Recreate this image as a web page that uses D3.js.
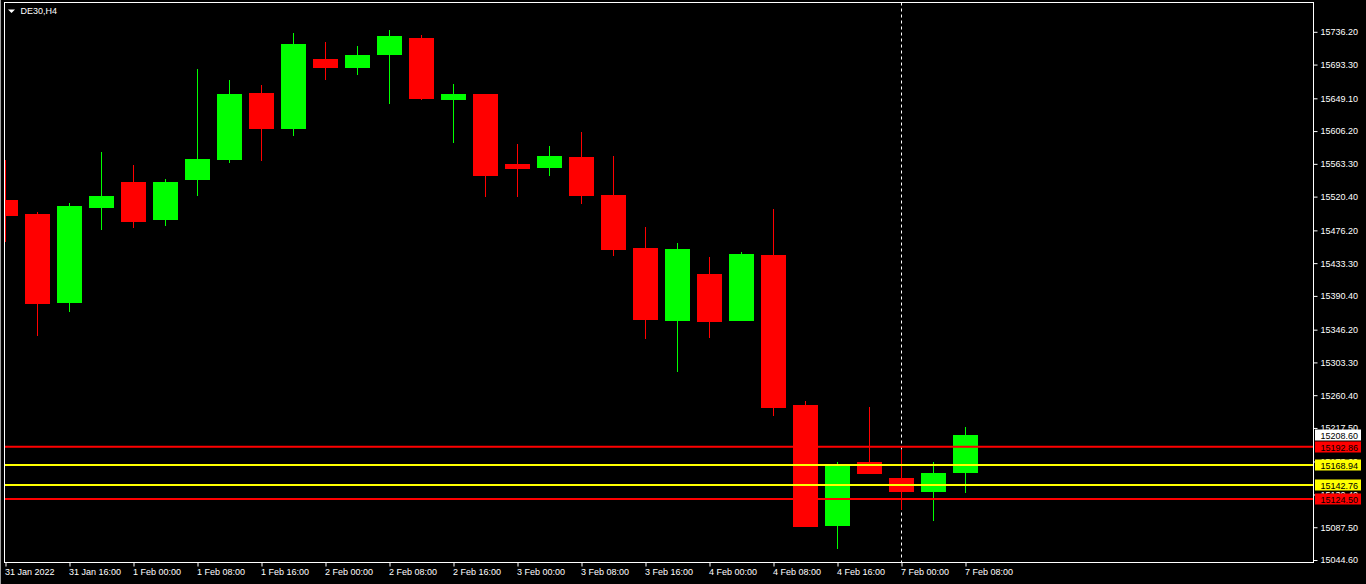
<!DOCTYPE html>
<html><head><meta charset="utf-8">
<script src="https://cdn.jsdelivr.net/npm/d3@7/dist/d3.min.js"></script>
<style>html,body{margin:0;padding:0;background:#000;overflow:hidden}svg{display:block}</style>
</head><body>
<svg id="c" width="1366" height="584"></svg>
<script>
const symbol = "DE30,H4";
const barTimes = ["31 Jan 08:00","31 Jan 12:00","31 Jan 16:00","31 Jan 20:00",
 "1 Feb 00:00","1 Feb 04:00","1 Feb 08:00","1 Feb 12:00","1 Feb 16:00","1 Feb 20:00",
 "2 Feb 00:00","2 Feb 04:00","2 Feb 08:00","2 Feb 12:00","2 Feb 16:00","2 Feb 20:00",
 "3 Feb 00:00","3 Feb 04:00","3 Feb 08:00","3 Feb 12:00","3 Feb 16:00","3 Feb 20:00",
 "4 Feb 00:00","4 Feb 04:00","4 Feb 08:00","4 Feb 12:00","4 Feb 16:00","4 Feb 20:00",
 "7 Feb 00:00","7 Feb 04:00","7 Feb 08:00"];
const firstLabel = "31 Jan 2022";
const open  = [15515.5,15497.2,15380.7,15505.4,15539.0,15489.7,15542.0,15568.2,15655.5,15608.8,15700.0,15688.6,15705.6,15728.7,15646.7,15654.2,15562.6,15557.7,15571.7,15522.0,15452.7,15357.5,15418.6,15357.5,15443.5,15247.3,15089.3,15172.7,15151.7,15133.8,15158.7];
const high  = [15567.8,15499.8,15511.5,15578.3,15561.3,15542.9,15686.9,15672.5,15665.9,15734.0,15722.2,15717.0,15739.2,15731.4,15667.2,15654.2,15588.7,15586.1,15604.4,15573.0,15480.1,15459.2,15440.9,15447.4,15503.7,15252.5,15172.7,15244.6,15188.4,15172.7,15218.5];
const low   = [15460.9,15337.9,15369.3,15476.6,15479.2,15481.8,15521.1,15564.3,15566.9,15599.6,15672.9,15679.4,15641.5,15647.5,15590.4,15519.8,15519.8,15547.3,15510.6,15442.6,15334.0,15290.8,15335.3,15357.0,15233.3,15087.5,15059.2,15157.0,15110.3,15095.9,15132.5];
const close = [15494.5,15379.4,15507.6,15520.7,15487.1,15539.0,15569.1,15654.2,15608.8,15719.6,15688.6,15705.2,15730.1,15648.0,15654.2,15547.3,15556.4,15573.0,15521.1,15450.4,15358.9,15451.4,15356.2,15444.8,15243.7,15088.0,15169.7,15157.4,15133.8,15158.3,15208.6];
const priceTicks = [15736.2,15693.3,15649.1,15606.2,15563.3,15520.4,15476.2,15433.3,15390.4,15346.2,15303.3,15260.4,15217.5,15173.6,15130.4,15087.5,15044.6];
const levelValues = [15192.86,15168.94,15142.76,15124.50];
const levelColors = ["#ff0000","#ffff00","#ffff00","#ff0000"];
const lastPrice = 15208.60;
const separatorBar = "7 Feb 00:00";

const svg = d3.select("#c");
const L = 4.5, R = 1313.5, T = 2.5, B = 562.5;
const font = "'Liberation Sans', Arial, sans-serif";

const x = d3.scalePoint().domain(barTimes).range([5.5, 965.5]);
const y = d3.scaleLinear().domain([15044.6, 15736.2]).range([560.0, 31.8]);

svg.append("rect").attr("width",1366).attr("height",584).attr("fill","#000");
svg.append("line").attr("x1",0.5).attr("x2",0.5).attr("y1",0).attr("y2",584).attr("stroke","#a0a0a0");

svg.append("defs").append("clipPath").attr("id","plot")
  .append("rect").attr("x",L+0.5).attr("y",T+0.5).attr("width",R-L-1).attr("height",B-T-1);
const plot = svg.append("g").attr("clip-path","url(#plot)");

// period separator
plot.append("line").attr("x1",x(separatorBar)).attr("x2",x(separatorBar))
  .attr("y1",T).attr("y2",B).attr("stroke","#fff").attr("stroke-dasharray","3,3");

const bars = barTimes.map((t,i)=>({t,o:open[i],h:high[i],l:low[i],c:close[i]}));
const g = plot.selectAll("g.bar").data(bars).join("g");
const col = d => d.c >= d.o ? "#00ff00" : "#ff0000";
g.append("line")
  .attr("x1",d=>x(d.t)).attr("x2",d=>x(d.t))
  .attr("y1",d=>Math.round(y(d.h))).attr("y2",d=>Math.round(y(d.l)))
  .attr("stroke",col).attr("stroke-width",1);
g.append("rect")
  .attr("x",d=>x(d.t)-12.5).attr("width",25)
  .attr("y",d=>Math.round(y(Math.max(d.o,d.c))))
  .attr("height",d=>Math.max(1,Math.round(y(Math.min(d.o,d.c)))-Math.round(y(Math.max(d.o,d.c)))))
  .attr("fill",col);

// horizontal levels
plot.selectAll("line.lvl").data(levelValues).join("line")
  .attr("x1",L).attr("x2",R).attr("y1",d=>y(d)).attr("y2",d=>y(d))
  .attr("stroke",(d,i)=>levelColors[i]).attr("stroke-width",2);

// frame
svg.append("rect").attr("x",L).attr("y",T).attr("width",R-L).attr("height",B-T)
  .attr("fill","none").attr("stroke","#fff").attr("stroke-width",1);

// right axis
const ya = d3.axisRight(y).tickValues(priceTicks).tickFormat(d3.format(".2f")).tickSize(4).tickSizeOuter(0);
const yg = svg.append("g").attr("transform",`translate(${R},0)`).call(ya);
yg.select(".domain").remove();
yg.selectAll("line").attr("stroke","#fff");
yg.selectAll("text").attr("fill","#fff").attr("font-family",font).attr("font-size","9px").attr("x",7);

// bottom axis
const labelBars = barTimes.filter((t,i)=>i%2===0);
const xa = d3.axisBottom(x).tickValues(labelBars).tickSize(4).tickSizeOuter(0)
  .tickFormat(t => t === barTimes[0] ? firstLabel : t);
const xg = svg.append("g").attr("transform",`translate(0,${B})`).call(xa);
xg.select(".domain").remove();
xg.selectAll("line").attr("stroke","#fff");
xg.selectAll("text").attr("fill","#fff").attr("font-family",font).attr("font-size","9px")
  .attr("text-anchor","start").attr("dx",-1).attr("y",6).attr("dy","0.71em");

// price labels
const tags = [{v:lastPrice,bg:"#fff"}].concat(levelValues.map((v,i)=>({v,bg:levelColors[i]})));
const tg = svg.selectAll("g.tag").data(tags).join("g");
tg.append("rect").attr("x",R+1.5).attr("width",46).attr("y",d=>Math.round(y(d.v))-5.5).attr("height",11).attr("fill",d=>d.bg);
tg.append("text").attr("x",R+7).attr("y",d=>Math.round(y(d.v))+3.5).attr("fill","#000")
  .attr("font-family",font).attr("font-size","9px").text(d=>d3.format(".2f")(d.v));

// title
svg.append("path").attr("d","M8,9.5 L15,9.5 L11.5,13 Z").attr("fill","#fff");
svg.append("text").attr("x",20.5).attr("y",13.6).attr("fill","#fff").attr("font-family",font).attr("font-size","9px").text(symbol);
</script>
</body></html>
